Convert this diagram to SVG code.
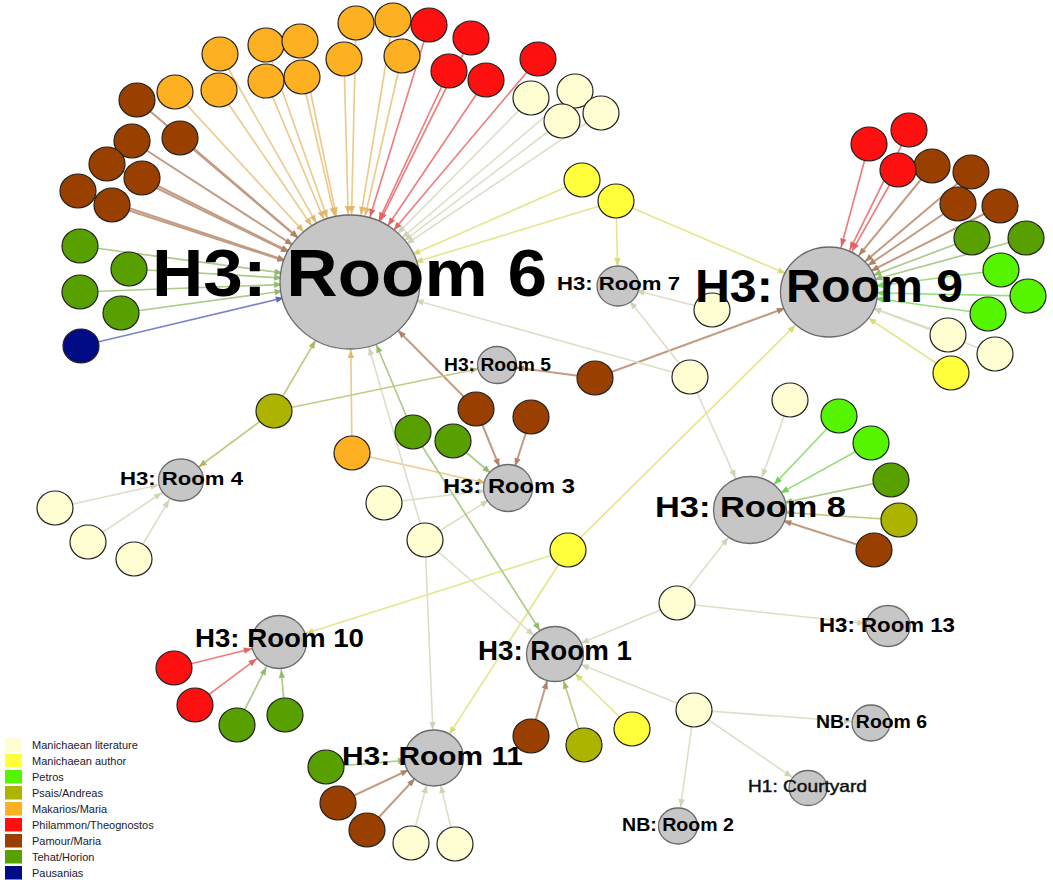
<svg xmlns="http://www.w3.org/2000/svg" width="1053" height="880" viewBox="0 0 1053 880">
<style>
.n{stroke:#222;stroke-width:1.2}
.cr{fill:#FEFED2}.ye{fill:#FFFF3C}.bg{fill:#55F500}.ol{fill:#ADB400}.or{fill:#FDB022}.rd{fill:#FF1010}.br{fill:#993F00}.gn{fill:#58A000}.nv{fill:#000B85}
.room{fill:#C6C6C6;stroke:#6a6a6a;stroke-width:1.3}
.lbl{font-family:"Liberation Sans",Arial,sans-serif;font-weight:bold;fill:#000}
.lbl2{font-family:"Liberation Sans",Arial,sans-serif;fill:#111;stroke:#111;stroke-width:0.45}
.leg{font-family:"Liberation Sans",Arial,sans-serif;font-size:11px;fill:#1a1a2e}
line{stroke-width:1.7;fill:none}
.e-or{stroke:#ECCB8E}.e-br{stroke:#C29C82;stroke-width:2}.e-rd{stroke:#EC8080}.e-cr{stroke:#DEDEC8;stroke-width:1.6}.e-ye{stroke:#E6E690}.e-gn{stroke:#ACCB88}.e-nv{stroke:#7C86C6}.e-ol{stroke:#C8C884}.e-bg{stroke:#96E07A}
</style>
<defs>
<marker id="or68" markerUnits="userSpaceOnUse" orient="auto" viewBox="-80 -5 80 10" markerWidth="80" markerHeight="10" refX="0" refY="0"><path d="M-68,0 l-8,-3.2 v6.4 z" fill="#E2B86C"/></marker>
<marker id="or22" markerUnits="userSpaceOnUse" orient="auto" viewBox="-80 -5 80 10" markerWidth="80" markerHeight="10" refX="0" refY="0"><path d="M-23,0 l-8,-3.2 v6.4 z" fill="#E2B86C"/></marker>
<marker id="br68" markerUnits="userSpaceOnUse" orient="auto" viewBox="-80 -5 80 10" markerWidth="80" markerHeight="10" refX="0" refY="0"><path d="M-68,0 l-8,-3.2 v6.4 z" fill="#B08468"/></marker>
<marker id="br47" markerUnits="userSpaceOnUse" orient="auto" viewBox="-80 -5 80 10" markerWidth="80" markerHeight="10" refX="0" refY="0"><path d="M-47,0 l-8,-3.2 v6.4 z" fill="#B08468"/></marker>
<marker id="br36" markerUnits="userSpaceOnUse" orient="auto" viewBox="-80 -5 80 10" markerWidth="80" markerHeight="10" refX="0" refY="0"><path d="M-35,0 l-8,-3.2 v6.4 z" fill="#B08468"/></marker>
<marker id="br28" markerUnits="userSpaceOnUse" orient="auto" viewBox="-80 -5 80 10" markerWidth="80" markerHeight="10" refX="0" refY="0"><path d="M-28,0 l-8,-3.2 v6.4 z" fill="#B08468"/></marker>
<marker id="br22" markerUnits="userSpaceOnUse" orient="auto" viewBox="-80 -5 80 10" markerWidth="80" markerHeight="10" refX="0" refY="0"><path d="M-23,0 l-8,-3.2 v6.4 z" fill="#B08468"/></marker>
<marker id="br19" markerUnits="userSpaceOnUse" orient="auto" viewBox="-80 -5 80 10" markerWidth="80" markerHeight="10" refX="0" refY="0"><path d="M-19,0 l-8,-3.2 v6.4 z" fill="#B08468"/></marker>
<marker id="rd68" markerUnits="userSpaceOnUse" orient="auto" viewBox="-80 -5 80 10" markerWidth="80" markerHeight="10" refX="0" refY="0"><path d="M-68,0 l-8,-3.2 v6.4 z" fill="#E46464"/></marker>
<marker id="rd47" markerUnits="userSpaceOnUse" orient="auto" viewBox="-80 -5 80 10" markerWidth="80" markerHeight="10" refX="0" refY="0"><path d="M-47,0 l-8,-3.2 v6.4 z" fill="#E46464"/></marker>
<marker id="rd28" markerUnits="userSpaceOnUse" orient="auto" viewBox="-80 -5 80 10" markerWidth="80" markerHeight="10" refX="0" refY="0"><path d="M-28,0 l-8,-3.2 v6.4 z" fill="#E46464"/></marker>
<marker id="cr68" markerUnits="userSpaceOnUse" orient="auto" viewBox="-80 -5 80 10" markerWidth="80" markerHeight="10" refX="0" refY="0"><path d="M-68,0 l-8,-3.2 v6.4 z" fill="#D2D2B8"/></marker>
<marker id="cr47" markerUnits="userSpaceOnUse" orient="auto" viewBox="-80 -5 80 10" markerWidth="80" markerHeight="10" refX="0" refY="0"><path d="M-47,0 l-8,-3.2 v6.4 z" fill="#D2D2B8"/></marker>
<marker id="cr36" markerUnits="userSpaceOnUse" orient="auto" viewBox="-80 -5 80 10" markerWidth="80" markerHeight="10" refX="0" refY="0"><path d="M-35,0 l-8,-3.2 v6.4 z" fill="#D2D2B8"/></marker>
<marker id="cr28" markerUnits="userSpaceOnUse" orient="auto" viewBox="-80 -5 80 10" markerWidth="80" markerHeight="10" refX="0" refY="0"><path d="M-28,0 l-8,-3.2 v6.4 z" fill="#D2D2B8"/></marker>
<marker id="cr22" markerUnits="userSpaceOnUse" orient="auto" viewBox="-80 -5 80 10" markerWidth="80" markerHeight="10" refX="0" refY="0"><path d="M-23,0 l-8,-3.2 v6.4 z" fill="#D2D2B8"/></marker>
<marker id="cr19" markerUnits="userSpaceOnUse" orient="auto" viewBox="-80 -5 80 10" markerWidth="80" markerHeight="10" refX="0" refY="0"><path d="M-19,0 l-8,-3.2 v6.4 z" fill="#D2D2B8"/></marker>
<marker id="ye68" markerUnits="userSpaceOnUse" orient="auto" viewBox="-80 -5 80 10" markerWidth="80" markerHeight="10" refX="0" refY="0"><path d="M-68,0 l-8,-3.2 v6.4 z" fill="#DADA78"/></marker>
<marker id="ye47" markerUnits="userSpaceOnUse" orient="auto" viewBox="-80 -5 80 10" markerWidth="80" markerHeight="10" refX="0" refY="0"><path d="M-47,0 l-8,-3.2 v6.4 z" fill="#DADA78"/></marker>
<marker id="ye28" markerUnits="userSpaceOnUse" orient="auto" viewBox="-80 -5 80 10" markerWidth="80" markerHeight="10" refX="0" refY="0"><path d="M-28,0 l-8,-3.2 v6.4 z" fill="#DADA78"/></marker>
<marker id="ye19" markerUnits="userSpaceOnUse" orient="auto" viewBox="-80 -5 80 10" markerWidth="80" markerHeight="10" refX="0" refY="0"><path d="M-20,0 l-8,-3.2 v6.4 z" fill="#DADA78"/></marker>
<marker id="gn68" markerUnits="userSpaceOnUse" orient="auto" viewBox="-80 -5 80 10" markerWidth="80" markerHeight="10" refX="0" refY="0"><path d="M-68,0 l-8,-3.2 v6.4 z" fill="#94BA70"/></marker>
<marker id="gn47" markerUnits="userSpaceOnUse" orient="auto" viewBox="-80 -5 80 10" markerWidth="80" markerHeight="10" refX="0" refY="0"><path d="M-47,0 l-8,-3.2 v6.4 z" fill="#94BA70"/></marker>
<marker id="gn36" markerUnits="userSpaceOnUse" orient="auto" viewBox="-80 -5 80 10" markerWidth="80" markerHeight="10" refX="0" refY="0"><path d="M-35,0 l-8,-3.2 v6.4 z" fill="#94BA70"/></marker>
<marker id="gn28" markerUnits="userSpaceOnUse" orient="auto" viewBox="-80 -5 80 10" markerWidth="80" markerHeight="10" refX="0" refY="0"><path d="M-28,0 l-8,-3.2 v6.4 z" fill="#94BA70"/></marker>
<marker id="gn22" markerUnits="userSpaceOnUse" orient="auto" viewBox="-80 -5 80 10" markerWidth="80" markerHeight="10" refX="0" refY="0"><path d="M-23,0 l-8,-3.2 v6.4 z" fill="#94BA70"/></marker>
<marker id="nv68" markerUnits="userSpaceOnUse" orient="auto" viewBox="-80 -5 80 10" markerWidth="80" markerHeight="10" refX="0" refY="0"><path d="M-68,0 l-8,-3.2 v6.4 z" fill="#5E6AB6"/></marker>
<marker id="ol68" markerUnits="userSpaceOnUse" orient="auto" viewBox="-80 -5 80 10" markerWidth="80" markerHeight="10" refX="0" refY="0"><path d="M-68,0 l-8,-3.2 v6.4 z" fill="#B4B468"/></marker>
<marker id="ol36" markerUnits="userSpaceOnUse" orient="auto" viewBox="-80 -5 80 10" markerWidth="80" markerHeight="10" refX="0" refY="0"><path d="M-35,0 l-8,-3.2 v6.4 z" fill="#B4B468"/></marker>
<marker id="ol28" markerUnits="userSpaceOnUse" orient="auto" viewBox="-80 -5 80 10" markerWidth="80" markerHeight="10" refX="0" refY="0"><path d="M-28,0 l-8,-3.2 v6.4 z" fill="#B4B468"/></marker>
<marker id="ol22" markerUnits="userSpaceOnUse" orient="auto" viewBox="-80 -5 80 10" markerWidth="80" markerHeight="10" refX="0" refY="0"><path d="M-22,0 l-8,-3.2 v6.4 z" fill="#B4B468"/></marker>
<marker id="ol19" markerUnits="userSpaceOnUse" orient="auto" viewBox="-80 -5 80 10" markerWidth="80" markerHeight="10" refX="0" refY="0"><path d="M-19,0 l-8,-3.2 v6.4 z" fill="#B4B468"/></marker>
<marker id="bg47" markerUnits="userSpaceOnUse" orient="auto" viewBox="-80 -5 80 10" markerWidth="80" markerHeight="10" refX="0" refY="0"><path d="M-47,0 l-8,-3.2 v6.4 z" fill="#74D258"/></marker>
<marker id="bg36" markerUnits="userSpaceOnUse" orient="auto" viewBox="-80 -5 80 10" markerWidth="80" markerHeight="10" refX="0" refY="0"><path d="M-35,0 l-8,-3.2 v6.4 z" fill="#74D258"/></marker>
</defs>
<rect width="1053" height="880" fill="#fff"/>
<g id="connectors">
<line class="e-or" x1="175" y1="92" x2="350" y2="282" marker-end="url(#or68)"/>
<line class="e-or" x1="219" y1="90" x2="350" y2="282" marker-end="url(#or68)"/>
<line class="e-or" x1="220" y1="54" x2="350" y2="282" marker-end="url(#or68)"/>
<line class="e-or" x1="266" y1="45" x2="350" y2="282" marker-end="url(#or68)"/>
<line class="e-or" x1="300" y1="41" x2="350" y2="282" marker-end="url(#or68)"/>
<line class="e-or" x1="266" y1="81" x2="350" y2="282" marker-end="url(#or68)"/>
<line class="e-or" x1="302" y1="77" x2="350" y2="282" marker-end="url(#or68)"/>
<line class="e-or" x1="344" y1="59" x2="350" y2="282" marker-end="url(#or68)"/>
<line class="e-or" x1="356" y1="23" x2="350" y2="282" marker-end="url(#or68)"/>
<line class="e-or" x1="393" y1="20" x2="350" y2="282" marker-end="url(#or68)"/>
<line class="e-or" x1="402" y1="56" x2="350" y2="282" marker-end="url(#or68)"/>
<line class="e-or" x1="352" y1="453" x2="350" y2="282" marker-end="url(#or68)"/>
<line class="e-or" x1="352" y1="453" x2="508" y2="488" marker-end="url(#or22)"/>
<line class="e-br" x1="137" y1="100" x2="350" y2="282" marker-end="url(#br68)"/>
<line class="e-br" x1="180" y1="138" x2="350" y2="282" marker-end="url(#br68)"/>
<line class="e-br" x1="132" y1="141" x2="350" y2="282" marker-end="url(#br68)"/>
<line class="e-br" x1="107" y1="164" x2="350" y2="282" marker-end="url(#br68)"/>
<line class="e-br" x1="142" y1="178" x2="350" y2="282" marker-end="url(#br68)"/>
<line class="e-br" x1="78" y1="191" x2="350" y2="282" marker-end="url(#br68)"/>
<line class="e-br" x1="112" y1="205" x2="350" y2="282" marker-end="url(#br68)"/>
<line class="e-br" x1="476" y1="409" x2="350" y2="282" marker-end="url(#br68)"/>
<line class="e-br" x1="932" y1="166" x2="829" y2="292" marker-end="url(#br47)"/>
<line class="e-br" x1="971" y1="172" x2="829" y2="292" marker-end="url(#br47)"/>
<line class="e-br" x1="958" y1="204" x2="829" y2="292" marker-end="url(#br47)"/>
<line class="e-br" x1="1000" y1="206" x2="829" y2="292" marker-end="url(#br47)"/>
<line class="e-br" x1="595" y1="378" x2="829" y2="292" marker-end="url(#br47)"/>
<line class="e-br" x1="595" y1="378" x2="497" y2="365" marker-end="url(#br19)"/>
<line class="e-br" x1="476" y1="409" x2="508" y2="488" marker-end="url(#br22)"/>
<line class="e-br" x1="531" y1="417" x2="508" y2="488" marker-end="url(#br22)"/>
<line class="e-br" x1="874" y1="550" x2="750" y2="510" marker-end="url(#br36)"/>
<line class="e-br" x1="338" y1="803" x2="434" y2="758" marker-end="url(#br28)"/>
<line class="e-br" x1="367" y1="830" x2="434" y2="758" marker-end="url(#br28)"/>
<line class="e-br" x1="531" y1="736" x2="555" y2="654" marker-end="url(#br28)"/>
<line class="e-rd" x1="429" y1="25" x2="350" y2="282" marker-end="url(#rd68)"/>
<line class="e-rd" x1="449" y1="71" x2="350" y2="282" marker-end="url(#rd68)"/>
<line class="e-rd" x1="471" y1="38" x2="350" y2="282" marker-end="url(#rd68)"/>
<line class="e-rd" x1="486" y1="80" x2="350" y2="282" marker-end="url(#rd68)"/>
<line class="e-rd" x1="538" y1="59" x2="350" y2="282" marker-end="url(#rd68)"/>
<line class="e-rd" x1="869" y1="144" x2="829" y2="292" marker-end="url(#rd47)"/>
<line class="e-rd" x1="909" y1="130" x2="829" y2="292" marker-end="url(#rd47)"/>
<line class="e-rd" x1="898" y1="170" x2="829" y2="292" marker-end="url(#rd47)"/>
<line class="e-rd" x1="174" y1="668" x2="279" y2="642" marker-end="url(#rd28)"/>
<line class="e-rd" x1="195" y1="705" x2="279" y2="642" marker-end="url(#rd28)"/>
<line class="e-cr" x1="531" y1="98" x2="350" y2="282" marker-end="url(#cr68)"/>
<line class="e-cr" x1="575" y1="91" x2="350" y2="282" marker-end="url(#cr68)"/>
<line class="e-cr" x1="562" y1="121" x2="350" y2="282" marker-end="url(#cr68)"/>
<line class="e-cr" x1="601" y1="113" x2="350" y2="282" marker-end="url(#cr68)"/>
<line class="e-cr" x1="425" y1="540" x2="350" y2="282" marker-end="url(#cr68)"/>
<line class="e-cr" x1="690" y1="377" x2="350" y2="282" marker-end="url(#cr68)"/>
<line class="e-cr" x1="948" y1="335" x2="829" y2="292" marker-end="url(#cr47)"/>
<line class="e-cr" x1="995" y1="354" x2="829" y2="292" marker-end="url(#cr47)"/>
<line class="e-cr" x1="55" y1="508" x2="181" y2="480" marker-end="url(#cr22)"/>
<line class="e-cr" x1="88" y1="542" x2="181" y2="480" marker-end="url(#cr22)"/>
<line class="e-cr" x1="134" y1="559" x2="181" y2="480" marker-end="url(#cr22)"/>
<line class="e-cr" x1="384" y1="503" x2="508" y2="488" marker-end="url(#cr22)"/>
<line class="e-cr" x1="425" y1="540" x2="508" y2="488" marker-end="url(#cr22)"/>
<line class="e-cr" x1="712" y1="310" x2="618" y2="286" marker-end="url(#cr19)"/>
<line class="e-cr" x1="690" y1="377" x2="618" y2="286" marker-end="url(#cr19)"/>
<line class="e-cr" x1="790" y1="400" x2="750" y2="510" marker-end="url(#cr36)"/>
<line class="e-cr" x1="690" y1="377" x2="750" y2="510" marker-end="url(#cr36)"/>
<line class="e-cr" x1="677" y1="603" x2="750" y2="510" marker-end="url(#cr36)"/>
<line class="e-cr" x1="425" y1="540" x2="555" y2="654" marker-end="url(#cr28)"/>
<line class="e-cr" x1="677" y1="603" x2="555" y2="654" marker-end="url(#cr28)"/>
<line class="e-cr" x1="694" y1="710" x2="555" y2="654" marker-end="url(#cr28)"/>
<line class="e-cr" x1="425" y1="540" x2="434" y2="758" marker-end="url(#cr28)"/>
<line class="e-cr" x1="411" y1="843" x2="434" y2="758" marker-end="url(#cr28)"/>
<line class="e-cr" x1="455" y1="844" x2="434" y2="758" marker-end="url(#cr28)"/>
<line class="e-cr" x1="677" y1="603" x2="888" y2="626" marker-end="url(#cr22)"/>
<line class="e-cr" x1="694" y1="710" x2="871" y2="723" marker-end="url(#cr19)"/>
<line class="e-cr" x1="694" y1="710" x2="808" y2="788" marker-end="url(#cr19)"/>
<line class="e-cr" x1="694" y1="710" x2="678" y2="826" marker-end="url(#cr19)"/>
<line class="e-ye" x1="582" y1="180" x2="350" y2="282" marker-end="url(#ye68)"/>
<line class="e-ye" x1="616" y1="201" x2="350" y2="282" marker-end="url(#ye68)"/>
<line class="e-ye" x1="616" y1="201" x2="829" y2="292" marker-end="url(#ye47)"/>
<line class="e-ye" x1="951" y1="373" x2="829" y2="292" marker-end="url(#ye47)"/>
<line class="e-ye" x1="568" y1="550" x2="829" y2="292" marker-end="url(#ye47)"/>
<line class="e-ye" x1="616" y1="201" x2="618" y2="286" marker-end="url(#ye19)"/>
<line class="e-ye" x1="568" y1="550" x2="279" y2="642" marker-end="url(#ye28)"/>
<line class="e-ye" x1="568" y1="550" x2="434" y2="758" marker-end="url(#ye28)"/>
<line class="e-ye" x1="632" y1="729" x2="555" y2="654" marker-end="url(#ye28)"/>
<line class="e-gn" x1="80" y1="246" x2="350" y2="282" marker-end="url(#gn68)"/>
<line class="e-gn" x1="129" y1="269" x2="350" y2="282" marker-end="url(#gn68)"/>
<line class="e-gn" x1="80" y1="292" x2="350" y2="282" marker-end="url(#gn68)"/>
<line class="e-gn" x1="121" y1="313" x2="350" y2="282" marker-end="url(#gn68)"/>
<line class="e-gn" x1="413" y1="432" x2="350" y2="282" marker-end="url(#gn68)"/>
<line class="e-gn" x1="413" y1="432" x2="555" y2="654" marker-end="url(#gn28)"/>
<line class="e-gn" x1="972" y1="238" x2="829" y2="292" marker-end="url(#gn47)"/>
<line class="e-gn" x1="1026" y1="238" x2="829" y2="292" marker-end="url(#gn47)"/>
<line class="e-gn" x1="453" y1="441" x2="508" y2="488" marker-end="url(#gn22)"/>
<line class="e-gn" x1="891" y1="480" x2="750" y2="510" marker-end="url(#gn36)"/>
<line class="e-gn" x1="237" y1="725" x2="279" y2="642" marker-end="url(#gn28)"/>
<line class="e-gn" x1="285" y1="715" x2="279" y2="642" marker-end="url(#gn28)"/>
<line class="e-gn" x1="326" y1="767" x2="434" y2="758" marker-end="url(#gn28)"/>
<line class="e-nv" x1="81" y1="346" x2="350" y2="282" marker-end="url(#nv68)"/>
<line class="e-ol" x1="274" y1="411" x2="350" y2="282" marker-end="url(#ol68)"/>
<line class="e-ol" x1="274" y1="411" x2="181" y2="480" marker-end="url(#ol22)"/>
<line class="e-ol" x1="274" y1="411" x2="497" y2="365" marker-end="url(#ol19)"/>
<line class="e-ol" x1="899" y1="520" x2="750" y2="510" marker-end="url(#ol36)"/>
<line class="e-ol" x1="584" y1="745" x2="555" y2="654" marker-end="url(#ol28)"/>
<line class="e-bg" x1="1001" y1="270" x2="829" y2="292" marker-end="url(#bg47)"/>
<line class="e-bg" x1="1028" y1="296" x2="829" y2="292" marker-end="url(#bg47)"/>
<line class="e-bg" x1="988" y1="314" x2="829" y2="292" marker-end="url(#bg47)"/>
<line class="e-bg" x1="839" y1="416" x2="750" y2="510" marker-end="url(#bg36)"/>
<line class="e-bg" x1="871" y1="443" x2="750" y2="510" marker-end="url(#bg36)"/>
</g>
<g id="n-or1"><ellipse class="n or" cx="175" cy="92" rx="18" ry="17"/></g>
<g id="n-or2"><ellipse class="n or" cx="219" cy="90" rx="18" ry="17"/></g>
<g id="n-or3"><ellipse class="n or" cx="220" cy="54" rx="18" ry="17"/></g>
<g id="n-or4"><ellipse class="n or" cx="266" cy="45" rx="18" ry="17"/></g>
<g id="n-or5"><ellipse class="n or" cx="300" cy="41" rx="18" ry="17"/></g>
<g id="n-or6"><ellipse class="n or" cx="266" cy="81" rx="18" ry="17"/></g>
<g id="n-or7"><ellipse class="n or" cx="302" cy="77" rx="18" ry="17"/></g>
<g id="n-or8"><ellipse class="n or" cx="344" cy="59" rx="18" ry="17"/></g>
<g id="n-or9"><ellipse class="n or" cx="356" cy="23" rx="18" ry="17"/></g>
<g id="n-or10"><ellipse class="n or" cx="393" cy="20" rx="18" ry="17"/></g>
<g id="n-or11"><ellipse class="n or" cx="402" cy="56" rx="18" ry="17"/></g>
<g id="n-or12"><ellipse class="n or" cx="352" cy="453" rx="18" ry="17"/></g>
<g id="n-br1"><ellipse class="n br" cx="137" cy="100" rx="18" ry="17"/></g>
<g id="n-br2"><ellipse class="n br" cx="180" cy="138" rx="18" ry="17"/></g>
<g id="n-br3"><ellipse class="n br" cx="132" cy="141" rx="18" ry="17"/></g>
<g id="n-br4"><ellipse class="n br" cx="107" cy="164" rx="18" ry="17"/></g>
<g id="n-br5"><ellipse class="n br" cx="142" cy="178" rx="18" ry="17"/></g>
<g id="n-br6"><ellipse class="n br" cx="78" cy="191" rx="18" ry="17"/></g>
<g id="n-br7"><ellipse class="n br" cx="112" cy="205" rx="18" ry="17"/></g>
<g id="n-br8"><ellipse class="n br" cx="476" cy="409" rx="18" ry="17"/></g>
<g id="n-br9"><ellipse class="n br" cx="531" cy="417" rx="18" ry="17"/></g>
<g id="n-br10"><ellipse class="n br" cx="595" cy="378" rx="18" ry="17"/></g>
<g id="n-br11"><ellipse class="n br" cx="932" cy="166" rx="18" ry="17"/></g>
<g id="n-br12"><ellipse class="n br" cx="971" cy="172" rx="18" ry="17"/></g>
<g id="n-br13"><ellipse class="n br" cx="958" cy="204" rx="18" ry="17"/></g>
<g id="n-br14"><ellipse class="n br" cx="1000" cy="206" rx="18" ry="17"/></g>
<g id="n-br15"><ellipse class="n br" cx="874" cy="550" rx="18" ry="17"/></g>
<g id="n-br16"><ellipse class="n br" cx="338" cy="803" rx="18" ry="17"/></g>
<g id="n-br17"><ellipse class="n br" cx="367" cy="830" rx="18" ry="17"/></g>
<g id="n-br18"><ellipse class="n br" cx="531" cy="736" rx="18" ry="17"/></g>
<g id="n-rd1"><ellipse class="n rd" cx="429" cy="25" rx="18" ry="17"/></g>
<g id="n-rd2"><ellipse class="n rd" cx="471" cy="38" rx="18" ry="17"/></g>
<g id="n-rd3"><ellipse class="n rd" cx="449" cy="71" rx="18" ry="17"/></g>
<g id="n-rd4"><ellipse class="n rd" cx="486" cy="80" rx="18" ry="17"/></g>
<g id="n-rd5"><ellipse class="n rd" cx="538" cy="59" rx="18" ry="17"/></g>
<g id="n-rd6"><ellipse class="n rd" cx="869" cy="144" rx="18" ry="17"/></g>
<g id="n-rd7"><ellipse class="n rd" cx="909" cy="130" rx="18" ry="17"/></g>
<g id="n-rd8"><ellipse class="n rd" cx="898" cy="170" rx="18" ry="17"/></g>
<g id="n-rd9"><ellipse class="n rd" cx="174" cy="668" rx="18" ry="17"/></g>
<g id="n-rd10"><ellipse class="n rd" cx="195" cy="705" rx="18" ry="17"/></g>
<g id="n-cr1"><ellipse class="n cr" cx="531" cy="98" rx="18" ry="17"/></g>
<g id="n-cr2"><ellipse class="n cr" cx="575" cy="91" rx="18" ry="17"/></g>
<g id="n-cr3"><ellipse class="n cr" cx="601" cy="113" rx="18" ry="17"/></g>
<g id="n-cr4"><ellipse class="n cr" cx="562" cy="121" rx="18" ry="17"/></g>
<g id="n-cr5"><ellipse class="n cr" cx="712" cy="310" rx="18" ry="17"/></g>
<g id="n-cr6"><ellipse class="n cr" cx="690" cy="377" rx="18" ry="17"/></g>
<g id="n-cr7"><ellipse class="n cr" cx="948" cy="335" rx="18" ry="17"/></g>
<g id="n-cr8"><ellipse class="n cr" cx="995" cy="354" rx="18" ry="17"/></g>
<g id="n-cr9"><ellipse class="n cr" cx="790" cy="400" rx="18" ry="17"/></g>
<g id="n-cr10"><ellipse class="n cr" cx="55" cy="508" rx="18" ry="17"/></g>
<g id="n-cr11"><ellipse class="n cr" cx="88" cy="542" rx="18" ry="17"/></g>
<g id="n-cr12"><ellipse class="n cr" cx="134" cy="559" rx="18" ry="17"/></g>
<g id="n-cr13"><ellipse class="n cr" cx="384" cy="503" rx="18" ry="17"/></g>
<g id="n-cr14"><ellipse class="n cr" cx="425" cy="540" rx="18" ry="17"/></g>
<g id="n-cr15"><ellipse class="n cr" cx="677" cy="603" rx="18" ry="17"/></g>
<g id="n-cr16"><ellipse class="n cr" cx="694" cy="710" rx="18" ry="17"/></g>
<g id="n-cr17"><ellipse class="n cr" cx="411" cy="843" rx="18" ry="17"/></g>
<g id="n-cr18"><ellipse class="n cr" cx="455" cy="844" rx="18" ry="17"/></g>
<g id="n-ye1"><ellipse class="n ye" cx="582" cy="180" rx="18" ry="17"/></g>
<g id="n-ye2"><ellipse class="n ye" cx="616" cy="201" rx="18" ry="17"/></g>
<g id="n-ye3"><ellipse class="n ye" cx="951" cy="373" rx="18" ry="17"/></g>
<g id="n-ye4"><ellipse class="n ye" cx="568" cy="550" rx="18" ry="17"/></g>
<g id="n-ye5"><ellipse class="n ye" cx="632" cy="729" rx="18" ry="17"/></g>
<g id="n-gn1"><ellipse class="n gn" cx="80" cy="246" rx="18" ry="17"/></g>
<g id="n-gn2"><ellipse class="n gn" cx="129" cy="269" rx="18" ry="17"/></g>
<g id="n-gn3"><ellipse class="n gn" cx="80" cy="292" rx="18" ry="17"/></g>
<g id="n-gn4"><ellipse class="n gn" cx="121" cy="313" rx="18" ry="17"/></g>
<g id="n-gn5"><ellipse class="n gn" cx="413" cy="432" rx="18" ry="17"/></g>
<g id="n-gn6"><ellipse class="n gn" cx="453" cy="441" rx="18" ry="17"/></g>
<g id="n-gn7"><ellipse class="n gn" cx="972" cy="238" rx="18" ry="17"/></g>
<g id="n-gn8"><ellipse class="n gn" cx="1026" cy="238" rx="18" ry="17"/></g>
<g id="n-gn9"><ellipse class="n gn" cx="891" cy="480" rx="18" ry="17"/></g>
<g id="n-gn10"><ellipse class="n gn" cx="237" cy="725" rx="18" ry="17"/></g>
<g id="n-gn11"><ellipse class="n gn" cx="285" cy="715" rx="18" ry="17"/></g>
<g id="n-gn12"><ellipse class="n gn" cx="326" cy="767" rx="18" ry="17"/></g>
<g id="n-nv1"><ellipse class="n nv" cx="81" cy="346" rx="18" ry="17"/></g>
<g id="n-ol1"><ellipse class="n ol" cx="274" cy="411" rx="18" ry="17"/></g>
<g id="n-ol2"><ellipse class="n ol" cx="899" cy="520" rx="18" ry="17"/></g>
<g id="n-ol3"><ellipse class="n ol" cx="584" cy="745" rx="18" ry="17"/></g>
<g id="n-bg1"><ellipse class="n bg" cx="1001" cy="270" rx="18" ry="17"/></g>
<g id="n-bg2"><ellipse class="n bg" cx="1028" cy="296" rx="18" ry="17"/></g>
<g id="n-bg3"><ellipse class="n bg" cx="988" cy="314" rx="18" ry="17"/></g>
<g id="n-bg4"><ellipse class="n bg" cx="839" cy="416" rx="18" ry="17"/></g>
<g id="n-bg5"><ellipse class="n bg" cx="871" cy="443" rx="18" ry="17"/></g>
<g id="room7"><ellipse class="room" cx="618" cy="286" rx="21" ry="20"/><text class="lbl" x="557" y="290" font-size="19" textLength="123" lengthAdjust="spacingAndGlyphs">H3: Room 7</text></g>
<g id="room5"><ellipse class="room" cx="497" cy="365" rx="19.5" ry="18.5"/><text class="lbl" x="444" y="371" font-size="18.5" textLength="107" lengthAdjust="spacingAndGlyphs">H3: Room 5</text></g>
<g id="room3"><ellipse class="room" cx="508" cy="488" rx="24.5" ry="23.5"/><text class="lbl" x="443" y="493" font-size="21" textLength="132" lengthAdjust="spacingAndGlyphs">H3: Room 3</text></g>
<g id="room4"><ellipse class="room" cx="181" cy="480" rx="22.5" ry="21"/><text class="lbl" x="120" y="485" font-size="18.5" textLength="123" lengthAdjust="spacingAndGlyphs">H3: Room 4</text></g>
<g id="room8"><ellipse class="room" cx="750" cy="510" rx="36.5" ry="33.5"/><text class="lbl" x="655" y="517" font-size="29" textLength="191" lengthAdjust="spacingAndGlyphs">H3: Room 8</text></g>
<g id="room10"><ellipse class="room" cx="279" cy="642" rx="27.5" ry="26.5"/><text class="lbl" x="195" y="647" font-size="26" textLength="169" lengthAdjust="spacingAndGlyphs">H3: Room 10</text></g>
<g id="room11"><ellipse class="room" cx="434" cy="758" rx="29.5" ry="28"/><text class="lbl" x="342" y="765" font-size="26" textLength="181" lengthAdjust="spacingAndGlyphs">H3: Room 11</text></g>
<g id="room1"><ellipse class="room" cx="555" cy="654" rx="28.5" ry="27.5"/><text class="lbl" x="478" y="660" font-size="27" textLength="154" lengthAdjust="spacingAndGlyphs">H3: Room 1</text></g>
<g id="room13"><ellipse class="room" cx="888" cy="626" rx="22" ry="20.5"/><text class="lbl" x="819" y="632" font-size="20" textLength="136" lengthAdjust="spacingAndGlyphs">H3: Room 13</text></g>
<g id="nb-room6"><ellipse class="room" cx="871" cy="723" rx="19" ry="18"/><text class="lbl" x="816" y="728" font-size="18" textLength="111" lengthAdjust="spacingAndGlyphs">NB: Room 6</text></g>
<g id="h1-courtyard"><ellipse class="room" cx="808" cy="788" rx="19" ry="17.5"/><text class="lbl2" x="748" y="792" font-size="17" textLength="119" lengthAdjust="spacingAndGlyphs">H1: Courtyard</text></g>
<g id="nb-room2"><ellipse class="room" cx="678" cy="826" rx="19.5" ry="18"/><text class="lbl" x="622" y="831" font-size="18" textLength="112" lengthAdjust="spacingAndGlyphs">NB: Room 2</text></g>
<g id="room9"><ellipse class="room" cx="829" cy="292" rx="48.5" ry="45"/><text class="lbl" x="695" y="302" font-size="47" textLength="268" lengthAdjust="spacingAndGlyphs">H3: Room 9</text></g>
<g id="room6"><ellipse class="room" cx="350" cy="282" rx="70" ry="67"/><text class="lbl" x="152" y="296" font-size="66" textLength="395" lengthAdjust="spacingAndGlyphs">H3: Room 6</text></g>
<g id="legend">
<rect x="5" y="738" width="17" height="13.5" fill="#FEFED2"/><text class="leg" x="32" y="749">Manichaean literature</text>
<rect x="5" y="754" width="17" height="13.5" fill="#FFFF3C"/><text class="leg" x="32" y="765">Manichaean author</text>
<rect x="5" y="770" width="17" height="13.5" fill="#55F500"/><text class="leg" x="32" y="781">Petros</text>
<rect x="5" y="786" width="17" height="13.5" fill="#ADB400"/><text class="leg" x="32" y="797">Psais/Andreas</text>
<rect x="5" y="802" width="17" height="13.5" fill="#FDB022"/><text class="leg" x="32" y="813">Makarios/Maria</text>
<rect x="5" y="818" width="17" height="13.5" fill="#FF1010"/><text class="leg" x="32" y="829">Philammon/Theognostos</text>
<rect x="5" y="834" width="17" height="13.5" fill="#993F00"/><text class="leg" x="32" y="845">Pamour/Maria</text>
<rect x="5" y="850" width="17" height="13.5" fill="#58A000"/><text class="leg" x="32" y="861">Tehat/Horion</text>
<rect x="5" y="866" width="17" height="13.5" fill="#000B85"/><text class="leg" x="32" y="877">Pausanias</text>
</g>
</svg>
